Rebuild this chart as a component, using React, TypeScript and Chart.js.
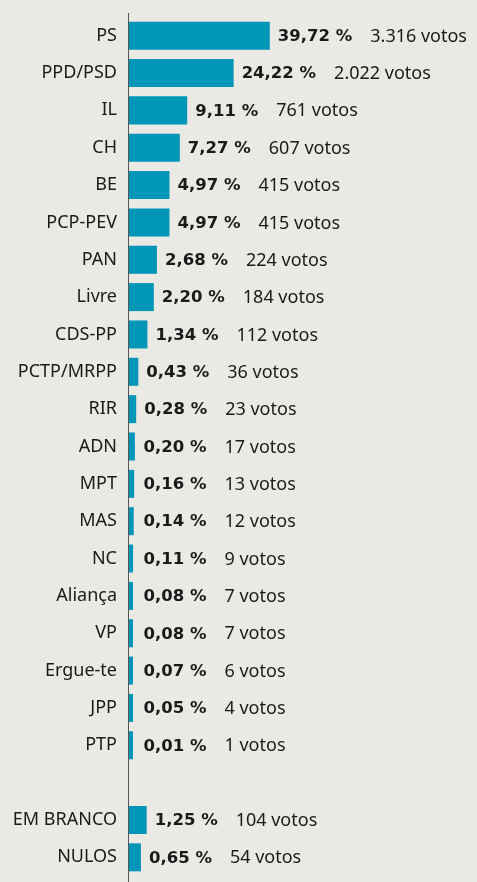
import React, { useEffect, useRef } from "react";
import { Chart, registerables, LinearScale } from "chart.js";

const EXP = 0.6;

class PowScale extends LinearScale {
  static id = "pow";
  static defaults = { ...(LinearScale as any).defaults };
  getPixelForValue(value: any) {
    if (value === null || value === undefined || isNaN(value)) return NaN;
    const max = (this as any).max || 1;
    const t = Math.pow(Math.max(0, value) / max, EXP);
    return (this as any).getPixelForDecimal(t);
  }
  getValueForPixel(pixel: number) {
    const d = (this as any).getDecimalForPixel(pixel);
    return Math.pow(Math.max(0, d), 1 / EXP) * (this as any).max;
  }
}

Chart.register(...registerables, PowScale as any);

const parties = [
  "PS", "PPD/PSD", "IL", "CH", "BE", "PCP-PEV", "PAN", "Livre", "CDS-PP",
  "PCTP/MRPP", "RIR", "ADN", "MPT", "MAS", "NC", "Aliança", "VP", "Ergue-te",
  "JPP", "PTP", "", "EM BRANCO", "NULOS",
];
const percentages: (number | null)[] = [
  39.72, 24.22, 9.11, 7.27, 4.97, 4.97, 2.68, 2.2, 1.34, 0.43, 0.28, 0.2, 0.16,
  0.14, 0.11, 0.08, 0.08, 0.07, 0.05, 0.01, null, 1.25, 0.65,
];
const votes: (number | null)[] = [
  3316, 2022, 761, 607, 415, 415, 224, 184, 112, 36, 23, 17, 13, 12, 9, 7, 7,
  6, 4, 1, null, 104, 54,
];

const FONT = "'Noto Sans'";
const BOLD_FONT = "'DejaVu Sans'";
const FSIZE = 18;
const BSIZE = 16.5;
const BAR = "#0096b7";
const BG = "#ebe9e4";
const TEXT = "#1a1a1a";

const fmtPct = (v: number) => v.toFixed(2).replace(".", ",") + " %";
const fmtVotes = (v: number) =>
  String(v).replace(/\B(?=(\d{3})+(?!\d))/g, ".") + " votos";

const labelPlugin = {
  id: "valueLabels",
  afterDatasetsDraw(chart: any) {
    const ctx = chart.ctx;
    const meta = chart.getDatasetMeta(0);
    const xScale = chart.scales.x;
    ctx.save();
    const ax = Math.round(xScale.getPixelForValue(0)) - 0.5;
    ctx.strokeStyle = "#555";
    ctx.lineWidth = 1;
    ctx.beginPath();
    ctx.moveTo(ax, chart.chartArea.top - 4);
    ctx.lineTo(ax, chart.height);
    ctx.stroke();
    ctx.textBaseline = "middle";
    ctx.textAlign = "left";
    ctx.fillStyle = TEXT;
    meta.data.forEach((bar: any, i: number) => {
      const p = percentages[i];
      const v = votes[i];
      if (p == null || v == null) return;
      const x = Math.max(bar.x + 8, ax + 15);
      const y = bar.y + 1;
      ctx.font = `bold ${BSIZE}px ${BOLD_FONT}`;
      const t1 = fmtPct(p);
      ctx.fillText(t1, x, y);
      const w = ctx.measureText(t1).width;
      ctx.font = `${FSIZE}px ${FONT}`;
      ctx.fillText(fmtVotes(v), x + w + 18, y);
    });
    ctx.restore();
  },
};

export default function App() {
  const ref = useRef<HTMLCanvasElement>(null);
  useEffect(() => {
    document.body.style.margin = "0";
    document.body.style.background = BG;
    const chart = new Chart(ref.current!, {
      type: "bar",
      data: {
        labels: parties,
        datasets: [
          {
            data: percentages as any,
            backgroundColor: BAR,
            borderWidth: 0,
            categoryPercentage: 1,
            barPercentage: 0.75,
            minBarLength: 4,
          },
        ],
      },
      options: {
        indexAxis: "y",
        responsive: false,
        animation: false,
        layout: { padding: { top: 17, bottom: 6, left: 0, right: 103 } },
        plugins: { legend: { display: false }, tooltip: { enabled: false } },
        scales: {
          x: {
            type: "pow" as any,
            min: 0,
            max: 100,
            display: false,
          },
          y: {
            grid: { display: false, drawTicks: false },
            border: { display: false },
            ticks: {
              color: TEXT,
              font: { family: FONT, size: FSIZE },
              padding: 12,
              autoSkip: false,
            },
            afterFit: (s: any) => {
              s.width = 129;
              s.paddingTop = 0;
              s.paddingBottom = 0;
            },
          },
        },
      },
      plugins: [labelPlugin],
    });
    return () => chart.destroy();
  }, []);
  return (
    <div style={{ width: 477, height: 882, background: BG }}>
      <canvas ref={ref} width={477} height={882} style={{ display: "block" }} />
    </div>
  );
}
